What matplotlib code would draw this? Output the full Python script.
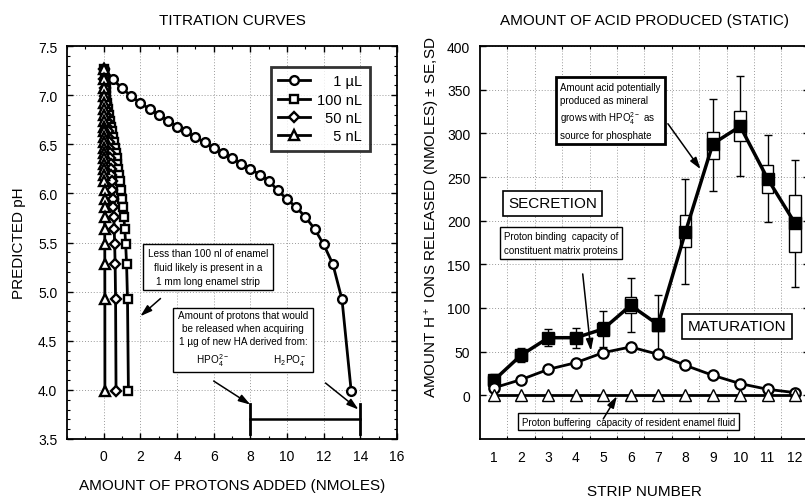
import matplotlib
matplotlib.use("Agg")
import matplotlib.pyplot as plt
import numpy as np

plt.rcParams["font.family"] = ["Liberation Sans", "DejaVu Sans"]
plt.rcParams["mathtext.fontset"] = "custom"
plt.rcParams["mathtext.rm"] = "Liberation Sans"
plt.rcParams["mathtext.it"] = "Liberation Sans:italic"

# ---- titration curves (left) ----
predicted_ph = [7.27, 7.16, 7.07, 6.99, 6.92, 6.86, 6.80, 6.74, 6.68, 6.63,
                6.57, 6.52, 6.46, 6.41, 6.36, 6.30, 6.25, 6.19, 6.13, 6.03,
                5.94, 5.86, 5.76, 5.64, 5.48, 5.28, 4.92, 3.99]
protons_1ul = [0.0, 0.5, 1.0, 1.5, 2.0, 2.5, 3.0, 3.5, 4.0, 4.5,
               5.0, 5.5, 6.0, 6.5, 7.0, 7.5, 8.0, 8.5, 9.0, 9.5,
               10.0, 10.5, 11.0, 11.5, 12.0, 12.5, 13.0, 13.5]
protons_100nl = [0.0, 0.05, 0.10, 0.15, 0.20, 0.25, 0.30, 0.35, 0.40, 0.45,
                 0.50, 0.55, 0.60, 0.65, 0.70, 0.75, 0.80, 0.85, 0.90, 0.95,
                 1.00, 1.05, 1.10, 1.15, 1.20, 1.25, 1.30, 1.35]
protons_50nl = [0.0, 0.025, 0.05, 0.075, 0.10, 0.125, 0.15, 0.175, 0.20, 0.225,
                0.25, 0.275, 0.30, 0.325, 0.35, 0.375, 0.40, 0.425, 0.45, 0.475,
                0.50, 0.525, 0.55, 0.575, 0.60, 0.625, 0.65, 0.675]
protons_5nl = [0.0, 0.0025, 0.005, 0.0075, 0.01, 0.0125, 0.015, 0.0175, 0.02, 0.0225,
               0.025, 0.0275, 0.03, 0.0325, 0.035, 0.0375, 0.04, 0.0425, 0.045, 0.0475,
               0.05, 0.0525, 0.055, 0.0575, 0.06, 0.0625, 0.065, 0.0675]
volume_labels = ["\u2007\u20071 \u00b5L", "100 nL", "\u200750 nL", "\u2007\u20075 nL"]

# ---- acid produced (right) ----
strips = [1, 2, 3, 4, 5, 6, 7, 8, 9, 10, 11, 12]
acid_mean = [17, 46, 66, 66, 76, 103, 81, 187, 288, 308, 248, 197]
acid_se_lo = [12, 41, 61, 61, 68, 94, 74, 170, 271, 291, 232, 164]
acid_se_hi = [22, 51, 71, 71, 84, 113, 89, 206, 302, 326, 264, 229]
acid_sd_lo = [10, 38, 57, 54, 55, 73, 50, 127, 234, 251, 199, 124]
acid_sd_hi = [24, 54, 76, 77, 97, 134, 115, 248, 339, 366, 298, 269]
matrix_binding = [8.5, 18, 29.8, 37.4, 48.9, 55.4, 47, 34.3, 22.9, 13.4, 6.9, 3.1]
fluid_buffering = [0, 0, 0, 0, 0, 0, 0, 0, 0, 0, 0, 0]

W, H = 805, 502
fig = plt.figure(figsize=(W / 100, H / 100), dpi=100)
ax1 = fig.add_axes([67 / W, 62 / H, 330 / W, 393 / H])
ax2 = fig.add_axes([480 / W, 62 / H, 328.7 / W, 393 / H])

grid_kw = dict(color="#9a9a9a", linestyle=(0, (1, 2)), linewidth=0.7)
arrow_kw = dict(arrowstyle="-|>,head_length=0.7,head_width=0.22", color="black",
                lw=1.1, shrinkA=0, shrinkB=0)
note_box = dict(boxstyle="square,pad=0.45", fc="white", ec="black", lw=1)

# left panel
series = [(protons_1ul, "o", 6.3), (protons_100nl, "s", 6.0),
          (protons_50nl, "D", 5.0), (protons_5nl, "^", 6.5)]
for (xs, m, ms), lab in zip(series, volume_labels):
    ax1.plot(xs, predicted_ph, color="black", lw=2, marker=m, ms=ms, mfc="white",
             mec="black", mew=1.7, label=lab)

ax1.set_xlim(-2, 16)
ax1.set_ylim(3.5, 7.5)
ax1.set_xticks(np.arange(0, 17, 2))
ax1.set_xticks(np.arange(-2, 17, 1), minor=True)
ax1.set_yticks(np.arange(3.5, 7.51, 0.5))
ax1.set_yticks(np.arange(3.5, 7.51, 0.1), minor=True)
ax1.set_yticklabels(["%.1f" % v for v in np.arange(3.5, 7.51, 0.5)])
ax1.grid(True, which="major", **grid_kw)
ax1.set_axisbelow(True)

leg = ax1.legend(loc="upper right", bbox_to_anchor=(0.94, 0.965), fontsize=10.5,
                 frameon=True, fancybox=False, edgecolor="black", handlelength=2.2,
                 borderpad=0.5, labelspacing=0.3, handletextpad=0.5)
leg.get_frame().set_linewidth(2)

ax1.text(5.7, 5.25, "Less than 100 nl of enamel\nfluid likely is present in a\n1 mm long enamel strip",
         fontsize=7.2, ha="center", va="center", linespacing=1.45, bbox=note_box)
ax1.annotate("", xy=(2.0, 4.75), xytext=(3.1, 4.93), arrowprops=arrow_kw)

ax1.text(7.6, 4.52, "Amount of protons that would\nbe released when acquiring\n"
         "1 \u00b5g of new HA derived from:\n"
         "      HPO$_4^{2-}$                H$_2$PO$_4^-$",
         fontsize=7.2, ha="center", va="center", linespacing=1.4, bbox=note_box)
ax1.annotate("", xy=(8.0, 3.85), xytext=(6.0, 4.09), arrowprops=arrow_kw)
ax1.annotate("", xy=(13.9, 3.80), xytext=(12.1, 4.07), arrowprops=arrow_kw)
ax1.plot([8, 14], [3.70, 3.70], color="black", lw=1.8)
ax1.plot([8, 8], [3.55, 3.86], color="black", lw=2)
ax1.plot([14, 14], [3.55, 3.86], color="black", lw=2)

ax1.set_title("TITRATION CURVES", fontsize=11, pad=16)
ax1.set_xlabel("AMOUNT OF PROTONS ADDED (NMOLES)", fontsize=11, labelpad=11)
ax1.set_ylabel("PREDICTED pH", fontsize=11, labelpad=9)

# right panel
ax2.errorbar(strips, acid_mean,
             yerr=[np.subtract(acid_mean, acid_sd_lo), np.subtract(acid_sd_hi, acid_mean)],
             fmt="none", ecolor="black", elinewidth=1, capsize=3.2, capthick=1, zorder=2)
ax2.bar(strips, np.subtract(acid_se_hi, acid_se_lo), bottom=acid_se_lo, width=0.42,
        facecolor="white", edgecolor="black", linewidth=1, zorder=3)
ax2.plot(strips, acid_mean, color="black", lw=2.5, marker="s", ms=8.5, mfc="black",
         mec="black", zorder=4)
ax2.plot(strips, matrix_binding, color="black", lw=2, marker="o", ms=7.5, mfc="white",
         mec="black", mew=1.6, zorder=5)
ax2.plot(strips, fluid_buffering, color="black", lw=2, marker="^", ms=8, mfc="white",
         mec="black", mew=1, zorder=5)

ax2.set_xlim(0.5, 12.5)
ax2.set_ylim(-50, 400)
ax2.set_xticks(strips)
ax2.set_xticks(np.arange(1.5, 12, 1), minor=True)
ax2.set_yticks(np.arange(0, 401, 50))
ax2.grid(True, which="minor", axis="x", **grid_kw)
ax2.grid(True, which="major", axis="y", **grid_kw)
ax2.set_axisbelow(True)

ax2.text(3.14, 220, "SECRETION", fontsize=11, ha="center", va="center",
         bbox=dict(boxstyle="square,pad=0.35", fc="white", ec="black", lw=1.2), zorder=6)
ax2.text(9.88, 79, "MATURATION", fontsize=11, ha="center", va="center",
         bbox=dict(boxstyle="square,pad=0.35", fc="white", ec="black", lw=1.2), zorder=6)
ax2.text(3.47, 174, "Proton binding  capacity of\nconstituent matrix proteins",
         fontsize=7, ha="center", va="center", linespacing=1.5,
         bbox=dict(boxstyle="square,pad=0.4", fc="white", ec="black", lw=1), zorder=6)
ax2.annotate("", xy=(4.55, 51), xytext=(4.25, 139), arrowprops=arrow_kw, zorder=6)
ax2.text(3.42, 326, "Amount acid potentially\nproduced as mineral\n"
         "grows with HPO$_4^{2-}$ as\nsource for phosphate",
         fontsize=7, ha="left", va="center", linespacing=1.4,
         bbox=dict(boxstyle="square,pad=0.45", fc="white", ec="black", lw=2), zorder=6)
ax2.annotate("", xy=(8.55, 259), xytext=(7.36, 311), arrowprops=arrow_kw, zorder=6)
ax2.text(5.93, -30, "Proton buffering  capacity of resident enamel fluid",
         fontsize=7, ha="center", va="center",
         bbox=dict(boxstyle="square,pad=0.4", fc="white", ec="black", lw=1), zorder=6)
ax2.annotate("", xy=(5.5, -1), xytext=(5.0, -27), arrowprops=arrow_kw, zorder=7)

ax2.set_title("AMOUNT OF ACID PRODUCED (STATIC)", fontsize=11, pad=16)
ax2.set_xlabel("STRIP NUMBER", fontsize=11, labelpad=14)
fig.text(433 / W, 1 - 217 / H, "AMOUNT H$^+$ IONS RELEASED (NMOLES) \u00b1 SE,SD",
         fontsize=11, rotation=90, ha="center", va="center")

for ax in (ax1, ax2):
    for sp in ax.spines.values():
        sp.set_linewidth(1.3)
    ax.tick_params(which="both", direction="in", top=True, right=True, labelsize=10)
    ax.tick_params(which="major", length=4, width=1, pad=7)
    ax.tick_params(which="minor", length=2.5, width=0.8)
ax2.tick_params(axis="x", which="major", length=0, pad=8)

fig.savefig("out.png", dpi=100)
